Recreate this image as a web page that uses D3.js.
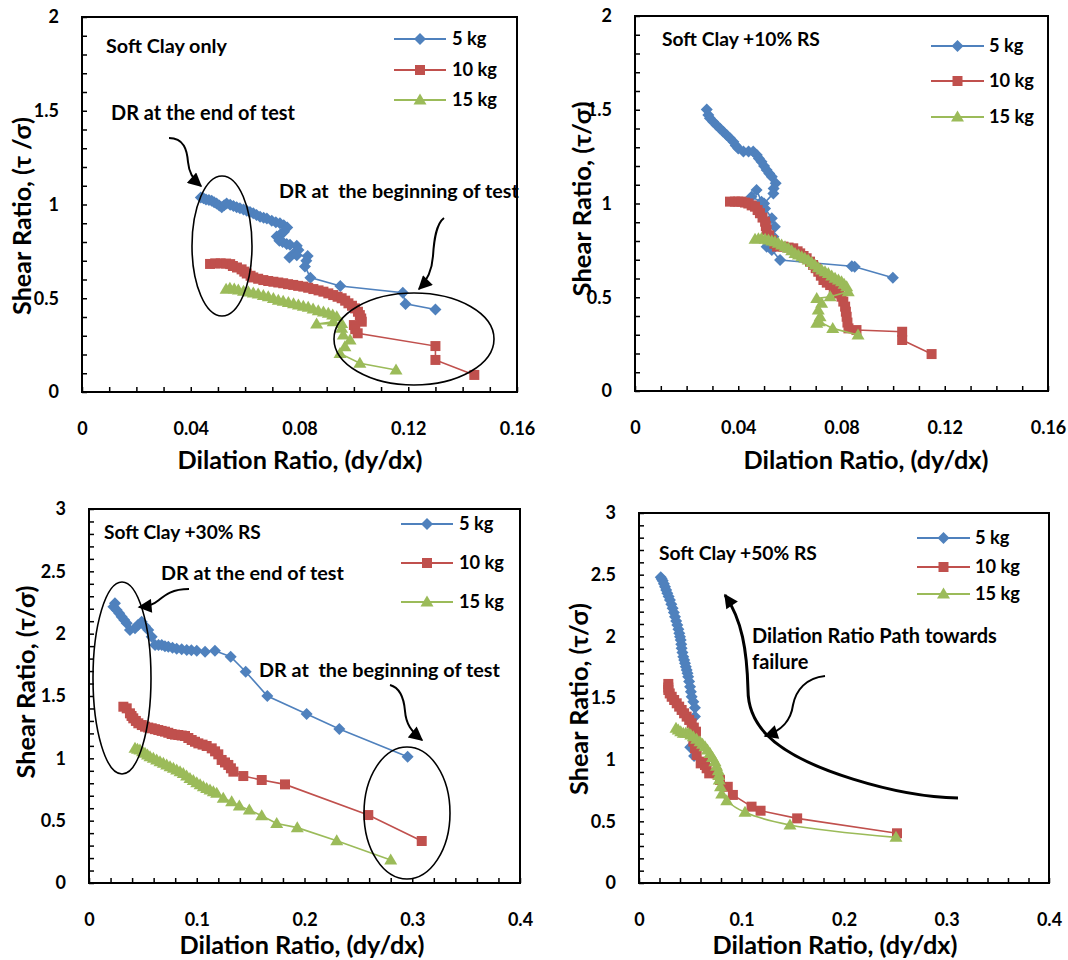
<!DOCTYPE html>
<html>
<head>
<meta charset="utf-8">
<script src="https://cdn.jsdelivr.net/npm/d3@7"></script>
<style>
  body { margin: 0; background: #fff; }
  svg text { font-family: Lato, 'Open Sans', sans-serif; font-weight: bold; fill: #000; }
</style>
</head>
<body>
<svg id="chart" width="1068" height="960"></svg>
<script>
// tick labels
const xLabelsSmall = [0, 0.04, 0.08, 0.12, 0.16];
const yLabelsSmall = [0, 0.5, 1, 1.5, 2];
const xLabelsBig = [0, 0.1, 0.2, 0.3, 0.4];
const yLabelsBig = [0, 0.5, 1, 1.5, 2, 2.5, 3];

const seriesNames = ['5 kg', '10 kg', '15 kg'];
const seriesColors = ['#4F81BD', '#C0504D', '#9BBB59'];
const seriesMarkers = ['diamond', 'square', 'triangle'];

// Soft clay only  [dilation ratio, shear ratio]
const clay_5kg = [[0.0437,1.038],[0.0447,1.033],[0.0456,1.027],[0.0467,1.024],[0.0477,1.02],[0.0486,1.012],[0.0495,1.006],[0.0505,0.995],[0.0514,0.985],[0.0523,0.996],[0.0532,1.006],[0.0545,0.999],[0.0557,0.992],[0.0569,0.986],[0.0581,0.98],[0.0594,0.973],[0.0606,0.967],[0.0618,0.96],[0.063,0.953],[0.0642,0.944],[0.0655,0.935],[0.0668,0.93],[0.068,0.926],[0.0698,0.913],[0.0713,0.905],[0.0728,0.90],[0.0742,0.89],[0.0755,0.878],[0.0743,0.855],[0.073,0.842],[0.0716,0.83],[0.0726,0.807],[0.0738,0.80],[0.0753,0.79],[0.0765,0.785],[0.079,0.78],[0.0796,0.757],[0.078,0.74],[0.0763,0.718],[0.079,0.73],[0.083,0.725],[0.0825,0.70],[0.082,0.67],[0.084,0.61],[0.095,0.565],[0.118,0.53],[0.119,0.47],[0.130,0.44]];
const clay_10kg = [[0.0471,0.683],[0.049,0.686],[0.051,0.686],[0.053,0.685],[0.0545,0.682],[0.0555,0.672],[0.057,0.664],[0.0587,0.654],[0.0597,0.642],[0.0606,0.632],[0.062,0.62],[0.063,0.611],[0.0648,0.604],[0.0667,0.597],[0.0685,0.592],[0.0704,0.588],[0.0722,0.584],[0.074,0.58],[0.0758,0.575],[0.0777,0.571],[0.0795,0.566],[0.0814,0.562],[0.0832,0.556],[0.0851,0.549],[0.087,0.542],[0.0888,0.535],[0.0906,0.526],[0.0924,0.517],[0.094,0.508],[0.0955,0.50],[0.0968,0.487],[0.098,0.473],[0.0993,0.46],[0.1004,0.446],[0.1015,0.428],[0.1022,0.41],[0.1027,0.392],[0.1029,0.375],[0.100,0.357],[0.1005,0.335],[0.1014,0.313],[0.130,0.245],[0.130,0.171],[0.1443,0.091]];
const clay_15kg = [[0.053,0.548],[0.0544,0.553],[0.056,0.549],[0.0575,0.544],[0.0594,0.538],[0.0612,0.533],[0.063,0.528],[0.0648,0.523],[0.0667,0.515],[0.0685,0.508],[0.0704,0.499],[0.0722,0.49],[0.074,0.484],[0.0759,0.478],[0.0778,0.471],[0.0796,0.464],[0.0814,0.458],[0.0832,0.452],[0.085,0.443],[0.0869,0.434],[0.0888,0.427],[0.0906,0.42],[0.0922,0.411],[0.0937,0.402],[0.0924,0.375],[0.0863,0.363],[0.0955,0.366],[0.0955,0.34],[0.0961,0.304],[0.0986,0.277],[0.0967,0.242],[0.0949,0.206],[0.1022,0.153],[0.1155,0.117]];

// Soft clay +10% RS
const rs10_5kg = [[0.0278,1.502],[0.0284,1.472],[0.029,1.455],[0.0303,1.436],[0.0316,1.418],[0.0329,1.40],[0.0342,1.383],[0.0355,1.365],[0.0368,1.348],[0.0381,1.33],[0.039,1.31],[0.040,1.294],[0.042,1.277],[0.044,1.277],[0.0458,1.277],[0.0472,1.259],[0.048,1.24],[0.049,1.223],[0.050,1.20],[0.051,1.179],[0.052,1.16],[0.053,1.143],[0.0545,1.108],[0.0537,1.08],[0.0536,1.054],[0.050,1.0],[0.0451,1.036],[0.0471,1.072],[0.049,1.01],[0.0504,0.974],[0.053,0.921],[0.0542,0.876],[0.0536,0.823],[0.051,0.77],[0.053,0.752],[0.0562,0.699],[0.084,0.665],[0.0851,0.663],[0.0999,0.604]];
const rs10_10kg = [[0.0368,1.01],[0.0387,1.01],[0.040,1.01],[0.0413,1.01],[0.0426,1.005],[0.0439,1.0],[0.0452,0.99],[0.0465,0.983],[0.0475,0.965],[0.0484,0.948],[0.0494,0.925],[0.0504,0.903],[0.0507,0.88],[0.051,0.859],[0.052,0.83],[0.053,0.805],[0.054,0.785],[0.055,0.77],[0.0575,0.77],[0.0595,0.765],[0.0613,0.761],[0.063,0.745],[0.064,0.734],[0.0653,0.72],[0.0665,0.708],[0.0678,0.69],[0.069,0.672],[0.070,0.655],[0.071,0.636],[0.072,0.615],[0.073,0.592],[0.0743,0.578],[0.0756,0.565],[0.077,0.55],[0.078,0.539],[0.079,0.52],[0.080,0.503],[0.0807,0.477],[0.0814,0.45],[0.0817,0.423],[0.082,0.396],[0.0823,0.365],[0.0827,0.334],[0.0858,0.325],[0.1035,0.316],[0.1035,0.272],[0.1149,0.197]];
const rs10_15kg = [[0.0465,0.809],[0.0478,0.812],[0.049,0.814],[0.0504,0.81],[0.0517,0.805],[0.053,0.80],[0.0542,0.796],[0.0555,0.788],[0.0568,0.779],[0.0581,0.77],[0.0594,0.761],[0.0607,0.748],[0.062,0.734],[0.0633,0.725],[0.0646,0.716],[0.0658,0.708],[0.0671,0.699],[0.0684,0.686],[0.0697,0.672],[0.071,0.658],[0.0723,0.645],[0.0736,0.636],[0.0749,0.627],[0.0762,0.614],[0.0775,0.601],[0.0788,0.592],[0.080,0.583],[0.081,0.57],[0.082,0.556],[0.0826,0.53],[0.0756,0.503],[0.0704,0.494],[0.0723,0.468],[0.071,0.432],[0.0717,0.396],[0.0704,0.361],[0.0714,0.37],[0.0766,0.334],[0.0864,0.299]];

// Soft clay +30% RS
const rs30_5kg = [[0.0241,2.243],[0.0226,2.216],[0.0257,2.19],[0.028,2.163],[0.0303,2.136],[0.0327,2.11],[0.035,2.083],[0.038,2.03],[0.0427,2.043],[0.0455,2.07],[0.0489,2.096],[0.052,2.06],[0.055,2.03],[0.0582,1.976],[0.0613,1.909],[0.0645,1.909],[0.0675,1.909],[0.0705,1.90],[0.0736,1.895],[0.0775,1.888],[0.0814,1.88],[0.086,1.875],[0.0907,1.869],[0.095,1.866],[0.10,1.863],[0.1077,1.855],[0.1169,1.863],[0.1315,1.815],[0.1454,1.695],[0.1655,1.50],[0.202,1.355],[0.2323,1.235],[0.2957,1.013]];
const rs30_10kg = [[0.0319,1.414],[0.035,1.401],[0.038,1.361],[0.0395,1.34],[0.0411,1.321],[0.0435,1.30],[0.0458,1.281],[0.049,1.267],[0.052,1.254],[0.055,1.247],[0.0582,1.241],[0.0612,1.234],[0.0643,1.227],[0.0674,1.22],[0.0705,1.214],[0.0736,1.205],[0.0767,1.195],[0.0798,1.19],[0.0829,1.187],[0.086,1.183],[0.0891,1.179],[0.0922,1.163],[0.0953,1.147],[0.0984,1.133],[0.1015,1.12],[0.1054,1.11],[0.1092,1.099],[0.1139,1.08],[0.117,1.056],[0.12,1.032],[0.1231,0.987],[0.1262,0.967],[0.1293,0.947],[0.1317,0.92],[0.134,0.893],[0.1432,0.858],[0.1603,0.826],[0.1819,0.791],[0.2592,0.545],[0.3088,0.337]];
const rs30_15kg = [[0.0427,1.08],[0.045,1.073],[0.0473,1.067],[0.0497,1.053],[0.052,1.04],[0.0543,1.027],[0.0566,1.013],[0.0597,1.0],[0.0628,0.987],[0.0659,0.973],[0.069,0.96],[0.0721,0.947],[0.0752,0.933],[0.0783,0.92],[0.0814,0.906],[0.0845,0.892],[0.0875,0.879],[0.0906,0.859],[0.0937,0.839],[0.0968,0.822],[0.10,0.805],[0.1031,0.789],[0.1061,0.772],[0.1092,0.759],[0.1123,0.746],[0.1154,0.732],[0.1185,0.719],[0.1246,0.679],[0.1324,0.652],[0.1395,0.618],[0.1488,0.586],[0.1603,0.54],[0.1742,0.478],[0.1933,0.444],[0.2299,0.339],[0.28,0.184]];

// Soft clay +50% RS
const rs50_5kg = [[0.0212,2.479],[0.0222,2.465],[0.0231,2.451],[0.0243,2.427],[0.0254,2.403],[0.0265,2.376],[0.0276,2.349],[0.0289,2.322],[0.0302,2.295],[0.0315,2.261],[0.0328,2.227],[0.034,2.193],[0.0351,2.159],[0.0363,2.125],[0.0374,2.092],[0.0384,2.058],[0.0393,2.025],[0.04,1.997],[0.0407,1.97],[0.0412,1.936],[0.0416,1.903],[0.0424,1.869],[0.0432,1.835],[0.0441,1.808],[0.0449,1.781],[0.0457,1.754],[0.0465,1.727],[0.0473,1.70],[0.048,1.673],[0.0489,1.633],[0.0498,1.592],[0.0506,1.55],[0.0514,1.51],[0.053,1.47],[0.0546,1.42],[0.0546,1.349],[0.050,1.10],[0.0537,1.03]];
const rs50_10kg = [[0.0286,1.614],[0.0286,1.585],[0.0286,1.565],[0.030,1.537],[0.0319,1.51],[0.0343,1.484],[0.0368,1.457],[0.0392,1.43],[0.0416,1.403],[0.044,1.376],[0.0465,1.349],[0.049,1.322],[0.0514,1.295],[0.0535,1.26],[0.0556,1.227],[0.0543,1.19],[0.053,1.146],[0.0546,1.092],[0.0563,1.038],[0.0602,0.97],[0.0627,0.984],[0.0644,0.957],[0.066,0.93],[0.0685,0.889],[0.0758,0.889],[0.079,0.835],[0.0866,0.78],[0.0916,0.714],[0.1098,0.619],[0.1186,0.586],[0.1543,0.524],[0.2517,0.403]];
const rs50_15kg = [[0.0361,1.254],[0.0383,1.24],[0.0407,1.227],[0.0432,1.214],[0.0456,1.214],[0.0481,1.214],[0.0505,1.20],[0.053,1.186],[0.0562,1.166],[0.0595,1.146],[0.062,1.125],[0.0644,1.105],[0.0668,1.078],[0.0693,1.051],[0.0717,1.018],[0.0741,0.984],[0.0757,0.947],[0.0774,0.91],[0.0778,0.872],[0.0783,0.835],[0.0795,0.78],[0.0807,0.722],[0.0856,0.667],[0.1034,0.573],[0.1473,0.47],[0.2507,0.37]];

const xTitle = 'Dilation Ratio, (dy/dx)';

// layout of the four panels (pixels)
const panels = [
  { box: {left: 82, right: 517, top: 17, bottom: 392}, xMax: 0.16, xStep: 0.01, yMax: 2, yStep: 0.1,
    xLabels: xLabelsSmall, yLabels: yLabelsSmall, series: [clay_5kg, clay_10kg, clay_15kg],
    xTitle: [300, 460], yTitle: {x: 22, y: 216, text: 'Shear Ratio, (τ /σ)', len: 198},
    legend: {x1: 394, x2: 446, tx: 452, rows: [39, 70, 100]},
    notes: [{x: 106, y: 46, w: 121, text: 'Soft Clay only'},
            {x: 111, y: 113, w: 184, text: 'DR at the end of test'},
            {x: 279, y: 191, w: 240, text: 'DR at\u00a0 the beginning of test'}],
    ellipses: [[222, 246, 30, 70], [414, 339, 80, 46]],
    arrows: [{d: 'M169,138 C184,138 187,150 188,162 C189,172 192,178 201,186', w: 2},
             {d: 'M444,218 C436,224 434,240 433,256 C432,270 428,280 419,289', w: 2}] },
  { box: {left: 635, right: 1048, top: 16, bottom: 391}, xMax: 0.16, xStep: 0.01, yMax: 2, yStep: 0.1,
    xLabels: xLabelsSmall, yLabels: yLabelsSmall, series: [rs10_5kg, rs10_10kg, rs10_15kg],
    xTitle: [866, 460], yTitle: {x: 582, y: 199, text: 'Shear Ratio, (τ/σ)', len: 195},
    legend: {x1: 931, x2: 984, tx: 989, rows: [46, 81, 117]},
    notes: [{x: 662, y: 39, w: 158, text: 'Soft Clay +10% RS'}],
    ellipses: [], arrows: [] },
  { box: {left: 89, right: 520, top: 509, bottom: 883}, xMax: 0.4, xStep: 0.02, yMax: 3, yStep: 0.1,
    xLabels: xLabelsBig, yLabels: yLabelsBig, series: [rs30_5kg, rs30_10kg, rs30_15kg],
    xTitle: [302, 945], yTitle: {x: 26, y: 682, text: 'Shear Ratio, (τ/σ)', len: 193},
    legend: {x1: 401, x2: 453, tx: 459, rows: [524, 563, 602]},
    notes: [{x: 104, y: 532, w: 157, text: 'Soft Clay +30% RS'},
            {x: 161, y: 573, w: 183, text: 'DR at the end of test'},
            {x: 259, y: 670, w: 241, text: 'DR at\u00a0 the beginning of test'}],
    ellipses: [[122, 678, 29, 96], [407, 813, 43, 66]],
    arrows: [{d: 'M189,589 C172,589 165,595 159,600 C154,604 150,606 139,607', w: 2},
             {d: 'M390,685 C401,688 404,699 405,711 C406,724 411,731 422,740', w: 2}] },
  { box: {left: 639, right: 1049, top: 513, bottom: 883}, xMax: 0.4, xStep: 0.02, yMax: 3, yStep: 0.1,
    xLabels: xLabelsBig, yLabels: yLabelsBig, series: [rs50_5kg, rs50_10kg, rs50_15kg], smooth: [false, false, true],
    xTitle: [835, 945], yTitle: {x: 579, y: 699, text: 'Shear Ratio, (τ/σ)', len: 192},
    legend: {x1: 917, x2: 970, tx: 975, rows: [538, 567, 594]},
    notes: [{x: 659, y: 553, w: 158, text: 'Soft Clay +50% RS'},
            {x: 752, y: 636, w: 245, text: 'Dilation Ratio Path towards'},
            {x: 752, y: 662, w: 0, text: 'failure'}],
    ellipses: [],
    arrows: [{d: 'M958,798 C900,797 800,770 766,734 C752,719 748,705 748,690 C747,650 742,620 725,595', w: 3},
             {d: 'M825,676 C806,678 796,690 793,705 C791,720 783,730 765,736', w: 2}] }
];

const svg = d3.select('#chart');
svg.append('rect').attr('width', 1068).attr('height', 960).attr('fill', '#fff');

svg.append('defs').append('marker')
    .attr('id', 'head')
    .attr('viewBox', '0 0 10 10')
    .attr('refX', 9).attr('refY', 5)
    .attr('markerUnits', 'userSpaceOnUse')
    .attr('markerWidth', 16).attr('markerHeight', 14)
    .attr('orient', 'auto')
  .append('path')
    .attr('d', 'M0,0 L10,5 L0,10 Z')
    .attr('fill', '#000');

// Excel-like marker shapes
const markerPath = {
    diamond: 'M0,-6L6,0L0,6L-6,0Z',
    square: 'M-5,-5h10v10h-10Z',
    triangle: 'M0,-6.5L6.5,4.5L-6.5,4.5Z'
};

const fmt = d => String(+d.toFixed(2));

// scale a text's font size so it spans the given length
const fitText = (t, len) => {
    t.style('font-size', '20px');
    const w = t.node().getComputedTextLength();
    const size = 20 * len / w;
    t.style('font-size', size.toFixed(2) + 'px');
    return size;
};

const drawPanel = (p) => {
    const {left, right, top, bottom} = p.box;
    const x = d3.scaleLinear().domain([0, p.xMax]).range([left, right]);
    const y = d3.scaleLinear().domain([0, p.yMax]).range([bottom, top]);
    const g = svg.append('g');

    const xMinor = d3.range(0, Math.round(p.xMax / p.xStep) + 1).map(i => +(i * p.xStep).toFixed(4));
    const yMinor = d3.range(0, Math.round(p.yMax / p.yStep) + 1).map(i => +(i * p.yStep).toFixed(4));
    const isLabel = (labels) => d => labels.some(v => Math.abs(v - d) < 1e-9);

    const gx = g.append('g')
        .attr('transform', `translate(0,${bottom})`)
        .call(d3.axisBottom(x).tickValues(xMinor).tickSize(-5).tickPadding(30)
            .tickFormat(d => isLabel(p.xLabels)(d) ? fmt(d) : ''));
    const gy = g.append('g')
        .attr('transform', `translate(${left},0)`)
        .call(d3.axisLeft(y).tickValues(yMinor).tickSize(-5).tickPadding(23)
            .tickFormat(d => isLabel(p.yLabels)(d) ? fmt(d) : ''));
    [gx, gy].forEach(a => {
        a.select('.domain').remove();
        a.selectAll('.tick line').attr('stroke', '#000').attr('stroke-width', 1.5);
        a.selectAll('.tick text').style('font-size', '18px')
            .style('font-family', "Lato, 'Open Sans', sans-serif").style('font-weight', 'bold');
    });

    g.append('rect')
        .attr('x', left).attr('y', top)
        .attr('width', right - left).attr('height', bottom - top)
        .attr('fill', 'none').attr('stroke', '#000').attr('stroke-width', 2);

    // series
    p.series.forEach((data, i) => {
        const line = d3.line()
            .x(d => x(d[0])).y(d => y(d[1]))
            .curve(p.smooth && p.smooth[i] ? d3.curveCatmullRom.alpha(0.5) : d3.curveLinear);
        const s = g.append('g');
        s.append('path')
            .datum(data)
            .attr('d', line)
            .attr('fill', 'none')
            .attr('stroke', seriesColors[i])
            .attr('stroke-width', 1.6);
        s.selectAll('path.mk')
            .data(data)
            .enter().append('path')
            .attr('class', 'mk')
            .attr('d', markerPath[seriesMarkers[i]])
            .attr('transform', d => `translate(${x(d[0])},${y(d[1])})`)
            .attr('fill', seriesColors[i]);
    });

    // legend
    const lg = g.append('g');
    let legendSize = null;
    seriesNames.forEach((name, i) => {
        const ry = p.legend.rows[i];
        lg.append('line')
            .attr('x1', p.legend.x1).attr('x2', p.legend.x2)
            .attr('y1', ry).attr('y2', ry)
            .attr('stroke', seriesColors[i]).attr('stroke-width', 2);
        lg.append('path')
            .attr('d', markerPath[seriesMarkers[i]])
            .attr('transform', `translate(${(p.legend.x1 + p.legend.x2) / 2},${ry})`)
            .attr('fill', seriesColors[i]);
        const t = lg.append('text')
            .attr('x', p.legend.tx).attr('y', ry).attr('dy', '0.35em')
            .text(name);
        if (i === 1) legendSize = fitText(t, 45);
    });
    lg.selectAll('text').style('font-size', legendSize.toFixed(2) + 'px');

    // axis titles
    const xt = g.append('text')
        .attr('x', p.xTitle[0]).attr('y', p.xTitle[1]).attr('dy', '0.35em')
        .attr('text-anchor', 'middle')
        .text(xTitle);
    fitText(xt, 245);
    const yt = g.append('text')
        .attr('transform', `translate(${p.yTitle.x},${p.yTitle.y}) rotate(-90)`)
        .attr('dy', '0.35em')
        .attr('text-anchor', 'middle')
        .text(p.yTitle.text);
    fitText(yt, p.yTitle.len);

    // annotations
    let lastSize = 16;
    p.notes.forEach(n => {
        const t = g.append('text')
            .attr('x', n.x).attr('y', n.y).attr('dy', '0.35em')
            .text(n.text);
        if (n.w > 0) lastSize = fitText(t, n.w);
        else t.style('font-size', lastSize.toFixed(2) + 'px');
    });
    p.ellipses.forEach(e => {
        g.append('ellipse')
            .attr('cx', e[0]).attr('cy', e[1]).attr('rx', e[2]).attr('ry', e[3])
            .attr('fill', 'none').attr('stroke', '#000').attr('stroke-width', 1.6);
    });
    p.arrows.forEach(a => {
        g.append('path')
            .attr('d', a.d)
            .attr('fill', 'none').attr('stroke', '#000').attr('stroke-width', a.w)
            .attr('marker-end', 'url(#head)');
    });
};

panels.forEach(drawPanel);
</script>
</body>
</html>
